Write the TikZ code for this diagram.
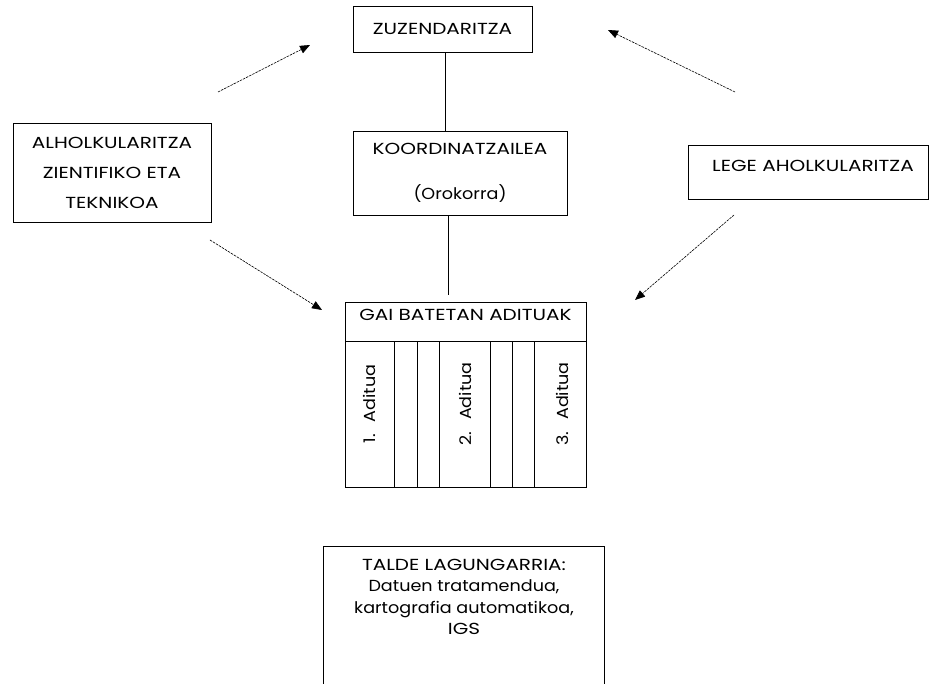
\documentclass[tikz,border=0pt]{standalone}
\usepackage{fontspec}
\setmainfont{Poppins}[FakeStretch=1.25]
\newfontfamily\lowfont{Poppins}[FakeStretch=1.1]
\usetikzlibrary{arrows.meta,positioning}
\tikzset{
  box/.style={draw=black, line width=0.9pt, fill=white, inner sep=0pt, align=center},
  boxfont/.style={font=\fontsize{16}{30}\selectfont},
  colbox/.style={draw=black, line width=0.9pt, fill=white, inner sep=0pt, minimum height=146pt},
  vtext/.style={rotate=90, inner sep=0pt, font=\lowfont\fontsize{16}{18}\selectfont},
  help/.style={dash pattern=on 2.5pt off 1pt, line width=0.6pt, -{Triangle[length=10pt,width=8pt]}}
}
\begin{document}
\begin{tikzpicture}[x=1pt,y=-1pt]
\useasboundingbox (0,0) rectangle (930,684);
\node[box, boxfont, minimum width=179pt, minimum height=46pt] (zuz) at (442.5,29) {ZUZENDARITZA};
\node[box, font=\fontsize{16}{45}\selectfont, minimum width=214pt, minimum height=84pt] (koord) at (460,173) {KOORDINATZAILEA\\{\lowfont(Orokorra)}};
\node[box, boxfont, minimum width=198pt, minimum height=99pt] (alh) at (112,172.5) {ALHOLKULARITZA\\ZIENTIFIKO ETA\\TEKNIKOA};
\node[box, boxfont, minimum width=240pt, minimum height=54pt, text height=11pt, text depth=12pt] (lege) at (808,172) {\hspace{10pt}LEGE AHOLKULARITZA};
\node[box, boxfont, minimum width=241pt, minimum height=39pt, text height=11pt, text depth=13pt] (gai) at (465.5,321.5) {GAI BATETAN ADITUAK};
\foreach \cx/\w/\n in {369.5/49/1, 405.5/23/2, 428/22/3, 464.5/51/4, 501/22/5, 523/22/6, 560/52/7}
  \node[colbox, minimum width=\w pt] (col\n) at (\cx,414) {};
\node[vtext] (adit1) at (369.5,404) {1.\hspace{12pt}Aditua};
\node[vtext] (adit2) at (465.5,404) {2.\hspace{12pt}Aditua};
\node[vtext] (adit3) at (562,404) {3.\hspace{12pt}Aditua};
\node[box, minimum width=281pt, minimum height=150pt, anchor=north] (talde) at (463.5,546) {};
\node[align=center, inner sep=0pt, font=\fontsize{16}{21.5}\selectfont, anchor=north] (taldetext) at (464,559) {TALDE LAGUNGARRIA:\\{\lowfont Datuen tratamendua,}\\{\lowfont kartografia automatikoa,}\\IGS};
\draw[line width=0.8pt] (zuz.south -| 445,0) -- (koord.north -| 445,0);
\draw[line width=0.8pt] (koord.south -| 448,0) -- ([yshift=7pt]gai.north -| 448,0);
\coordinate (alhup) at (218,92);
\coordinate (zuzwest) at (310,45);
\coordinate (legeup) at (735,92);
\coordinate (zuzeast) at (608,30);
\coordinate (alhdown) at (210,240);
\coordinate (gaiwest) at (322,310);
\coordinate (legedown) at (734,215);
\coordinate (gaieast) at (635,300);
\draw[help] (alhup) -- (zuzwest);
\draw[help] (legeup) -- (zuzeast);
\draw[help] (alhdown) -- (gaiwest);
\draw[help] (legedown) -- (gaieast);
\end{tikzpicture}
\end{document}
